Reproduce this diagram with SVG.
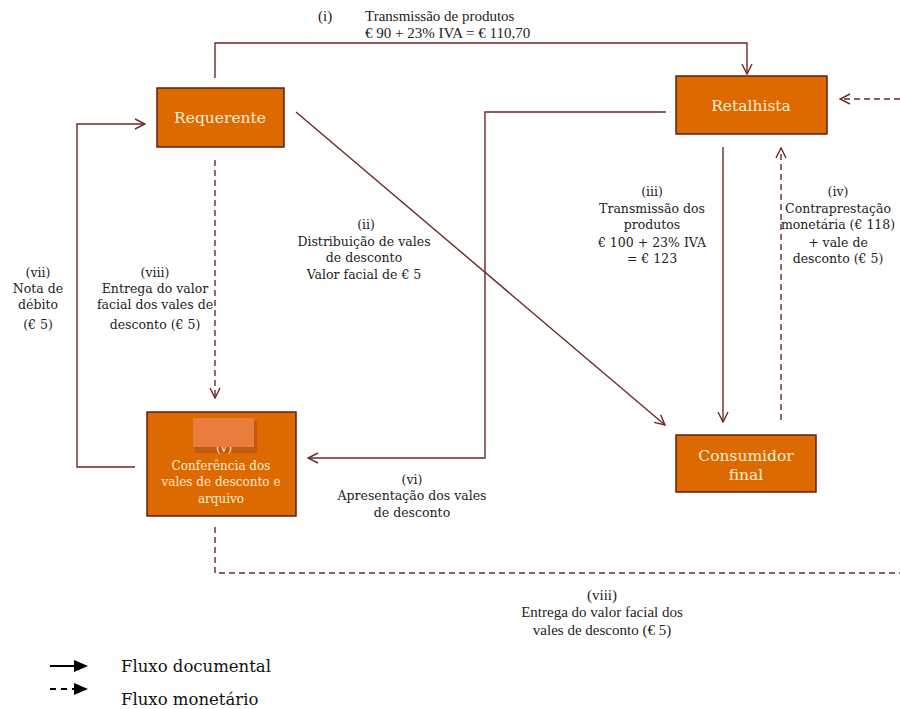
<svg xmlns="http://www.w3.org/2000/svg" width="900" height="709" viewBox="0 0 900 709">
<style>
.box{fill:#DC6A00;stroke:#5C1E1E;stroke-width:1.5}
.bt{font-family:"DejaVu Serif","Liberation Serif",serif;fill:#FCEBD2;text-anchor:middle}
.lb{font-family:"DejaVu Serif","Liberation Serif",serif;font-size:12.5px;fill:#222;text-anchor:middle}
.lc{font-family:"Liberation Serif","DejaVu Serif",serif;font-size:15px;fill:#222}
.ln{fill:none;stroke:#6B2828;stroke-width:1.4}
.ds{stroke-dasharray:6,4}
.lg{font-family:"DejaVu Serif","Liberation Serif",serif;font-size:16.5px;fill:#111}
</style>
<defs>
<marker id="arr" viewBox="0 0 12 12" refX="11" refY="6" markerWidth="12" markerHeight="12" markerUnits="userSpaceOnUse" orient="auto">
<path d="M1,1 L11,6 L1,11" fill="none" stroke="#6B2828" stroke-width="1.4"/>
</marker>
</defs>
<rect width="900" height="709" fill="#fff"/>

<g id="connectors">
<path class="ln" d="M215,78 V43 H747 V74" marker-end="url(#arr)"/>
<path class="ln" d="M296,112 L665,425" marker-end="url(#arr)"/>
<path class="ln" d="M723,147 V422" marker-end="url(#arr)"/>
<path class="ln ds" d="M781,420 V148" marker-end="url(#arr)"/>
<path class="ln" d="M666,112 H485 V458 H308" marker-end="url(#arr)"/>
<path class="ln" d="M135,467 H77 V124 H145" marker-end="url(#arr)"/>
<path class="ln ds" d="M215,160 V398" marker-end="url(#arr)"/>
<path class="ln ds" d="M215,527 V573 H900"/>
<path class="ln ds" d="M900,99 H840" marker-end="url(#arr)"/>
</g>

<g id="requerente">
<rect class="box" x="157" y="88" width="127" height="59"/>
<text class="bt" x="220" y="123" font-size="15.5">Requerente</text>
</g>
<g id="retalhista">
<rect class="box" x="676" y="76" width="151" height="58"/>
<text class="bt" x="751" y="111" font-size="15.5">Retalhista</text>
</g>
<g id="consumidor">
<rect class="box" x="676" y="435" width="140" height="57"/>
<text class="bt" x="746" y="461" font-size="15.5">Consumidor</text>
<text class="bt" x="746" y="480" font-size="15.5">final</text>
</g>
<g id="conferencia">
<rect class="box" x="147" y="412" width="149" height="104"/>
<rect x="195" y="421" width="62" height="32" fill="#BE5A12"/>
<text class="bt" x="224" y="452" font-size="12">(v)</text>
<rect x="193" y="418" width="61" height="29" fill="#EB7D3C"/>
<text class="bt" x="221" y="470" font-size="12">Conferência dos</text>
<text class="bt" x="221" y="486" font-size="12">vales de desconto e</text>
<text class="bt" x="221" y="503" font-size="12">arquivo</text>
</g>

<g id="labels">
<text class="lc" x="318" y="21">(i)</text>
<text class="lc" x="365" y="21">Transmissão de produtos</text>
<text class="lc" x="365" y="38">€ 90 + 23% IVA = € 110,70</text>

<text class="lb" x="366" y="229">(ii)</text>
<text class="lb" x="364" y="246">Distribuição de vales</text>
<text class="lb" x="364" y="262">de desconto</text>
<text class="lb" x="364" y="279">Valor facial de € 5</text>

<text class="lb" x="652" y="196">(iii)</text>
<text class="lb" x="652" y="213">Transmissão dos</text>
<text class="lb" x="652" y="229">produtos</text>
<text class="lb" x="652" y="247">€ 100 + 23% IVA</text>
<text class="lb" x="652" y="263">= € 123</text>

<text class="lb" x="838" y="196">(iv)</text>
<text class="lb" x="838" y="213">Contraprestação</text>
<text class="lb" x="838" y="229">monetária (€ 118)</text>
<text class="lb" x="838" y="247">+ vale de</text>
<text class="lb" x="838" y="263">desconto (€ 5)</text>

<text class="lb" x="38" y="277">(vii)</text>
<text class="lb" x="38" y="293">Nota de</text>
<text class="lb" x="38" y="309">débito</text>
<text class="lb" x="38" y="329">(€ 5)</text>

<text class="lb" x="155" y="277">(viii)</text>
<text class="lb" x="155" y="293">Entrega do valor</text>
<text class="lb" x="155" y="309">facial dos vales de</text>
<text class="lb" x="155" y="329">desconto (€ 5)</text>

<text class="lb" x="412" y="484">(vi)</text>
<text class="lb" x="412" y="500">Apresentação dos vales</text>
<text class="lb" x="412" y="517">de desconto</text>

<text class="lc" x="602" y="600" text-anchor="middle">(viii)</text>
<text class="lc" x="602" y="617" text-anchor="middle">Entrega do valor facial dos</text>
<text class="lc" x="602" y="635" text-anchor="middle">vales de desconto  (€ 5)</text>
</g>

<g id="legend">
<line x1="50" y1="666" x2="76" y2="666" stroke="#000" stroke-width="2"/>
<path d="M74,660 L88,666 L74,672 Z" fill="#000"/>
<line x1="50" y1="689" x2="76" y2="689" stroke="#000" stroke-width="2" stroke-dasharray="6,5"/>
<path d="M74,683 L88,689 L74,695 Z" fill="#000"/>
<text class="lg" x="121" y="672">Fluxo documental</text>
<text class="lg" x="121" y="705">Fluxo monetário</text>
</g>
</svg>
